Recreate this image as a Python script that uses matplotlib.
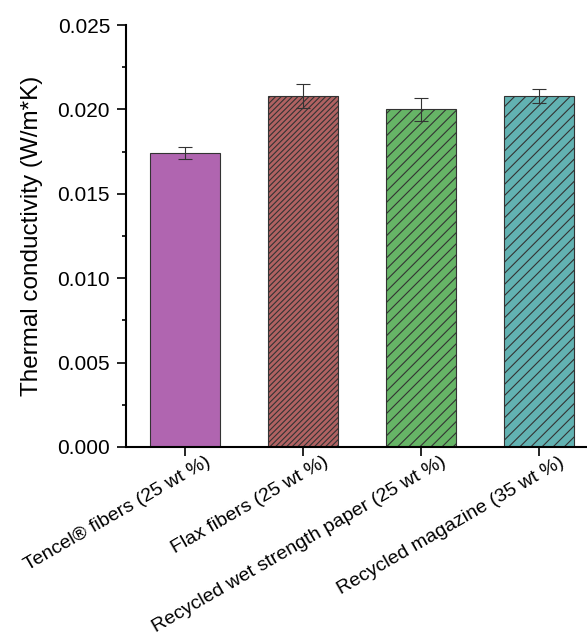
import matplotlib.pyplot as plt
import matplotlib.ticker as ticker
import matplotlib.transforms as mtransforms
import numpy as np

plt.rcParams['font.family'] = ['Liberation Sans', 'DejaVu Sans']
plt.rcParams['hatch.linewidth'] = 0.8

labels = ['Tencel® fibers (25 wt %)', 'Flax fibers (25 wt %)',
          'Recycled wet strength paper (25 wt %)', 'Recycled magazine (35 wt %)']
values = [0.0174, 0.0208, 0.0200, 0.0208]
errors = [0.00035, 0.0007, 0.0007, 0.0004]
colors = ['#B065B0', '#B06262', '#66B466', '#62B2B2']
hatches = ['', '//////', '///', '///']

fig = plt.figure(figsize=(5.87, 6.38), dpi=100)
ax = fig.add_axes([0.2147, 0.2994, 0.804, 0.6614])

x = np.arange(len(labels))
for i in range(len(labels)):
    ax.bar(x[i], values[i], width=0.6, color=colors[i], hatch=hatches[i],
           edgecolor='#333333', linewidth=0.8)
    ax.errorbar(x[i], values[i], yerr=errors[i], fmt='none', ecolor='#333333',
                elinewidth=0.8, capsize=5, capthick=0.8)

ax.set_xlim(-0.5, 3.5)
ax.set_ylim(0, 0.025)
ax.set_xticks(x)
ax.set_xticklabels([])
# category labels drawn as rotated text, end shifted right of the tick like the original
trans = ax.get_xaxis_transform() + mtransforms.ScaledTranslation(24 / 100, -14 / 100, fig.dpi_scale_trans)
for i, lab in enumerate(labels):
    ax.text(x[i], 0, lab, transform=trans, rotation=30, ha='right', va='center',
            rotation_mode='anchor', fontsize=14)

ax.yaxis.set_major_locator(ticker.MultipleLocator(0.005))
ax.yaxis.set_minor_locator(ticker.MultipleLocator(0.0025))
ax.yaxis.set_major_formatter(ticker.FormatStrFormatter('%.3f'))
ax.tick_params(axis='y', labelsize=15, width=1.2, length=6.5, pad=5)
ax.tick_params(axis='y', which='minor', width=1.2, length=3)
ax.tick_params(axis='x', width=1.2, length=6.5)
ax.set_ylabel('Thermal conductivity (W/m*K)', fontsize=17.5, labelpad=10)

for s in ['top', 'right']:
    ax.spines[s].set_visible(False)
for s in ['left', 'bottom']:
    ax.spines[s].set_linewidth(1.5)

fig.savefig('out.png', dpi=100)
